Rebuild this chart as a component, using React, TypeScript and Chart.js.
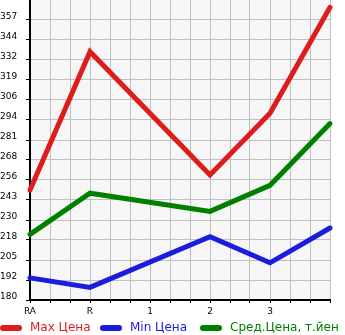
import React, { useEffect, useRef } from 'react';
import { Chart, registerables } from 'chart.js';

Chart.register(...registerables);

const categories = ['RA', 'R', '1', '2', '3', ''];
const maxPrices: (number | null)[] = [249.5, 337, null, 259, 298, 365];
const minPrices: (number | null)[] = [194, 188, null, 220, 203.5, 225.5];
const avgPrices: (number | null)[] = [221.5, 247.5, null, 236, 252.5, 291.5];
const yTickLabels = ['180', '192', '205', '218', '230', '243', '256', '268', '281', '294', '306', '319', '332', '344', '357'];
const seriesNames = ['Max Цена', 'Min Цена', 'Сред.Цена, т.йен'];
const seriesColors = ['#dd1c1c', '#1c1cdd', '#008000'];

const Y_MIN = 180;
const Y_STEP = (357 - 180) / 14;
const Y_MAX = Y_MIN + 15 * Y_STEP;
const SUB = 3; // minor grid subdivisions per category

const toPoints = (arr: (number | null)[]) => categories.map((_, i) => ({ x: i * SUB, y: arr[i] }));

const bgPlugin = {
  id: 'plotBg',
  beforeDraw(chart: any) {
    const { ctx, chartArea } = chart;
    ctx.save();
    ctx.fillStyle = '#f6f6f6';
    ctx.fillRect(chartArea.left, chartArea.top, chartArea.right - chartArea.left, chartArea.bottom - chartArea.top);
    ctx.restore();
  },
};

const legendPlugin = {
  id: 'customLegend',
  afterDraw(chart: any) {
    const ctx = chart.ctx;
    ctx.save();
    ctx.font = '12px "DejaVu Sans"';
    ctx.textBaseline = 'middle';
    const y = 328;
    seriesNames.forEach((name, i) => {
      const x = i * 100;
      ctx.strokeStyle = seriesColors[i];
      ctx.lineWidth = 6;
      ctx.lineCap = 'round';
      ctx.beginPath();
      ctx.moveTo(x + 3, y);
      ctx.lineTo(x + 19, y);
      ctx.stroke();
      ctx.fillStyle = seriesColors[i];
      ctx.fillText(name, x + 30, y);
    });
    ctx.restore();
  },
};

export default function App() {
  const ref = useRef<HTMLCanvasElement | null>(null);
  useEffect(() => {
    if (!ref.current) return;
    Chart.defaults.font.family = '"DejaVu Sans"';
    const mk = (i: number, arr: (number | null)[]) => ({
      label: seriesNames[i],
      data: toPoints(arr),
      borderColor: seriesColors[i],
      backgroundColor: seriesColors[i],
      borderWidth: 5,
      pointRadius: 0,
      spanGaps: true,
      tension: 0,
      clip: false as any,
      borderCapStyle: 'round' as const,
      borderJoinStyle: 'miter' as const,
    });
    const chart = new Chart(ref.current, {
      type: 'line',
      data: {
        datasets: [mk(0, maxPrices), mk(1, minPrices), mk(2, avgPrices)],
      },
      options: {
        animation: false,
        responsive: false,
        devicePixelRatio: 1,
        layout: { padding: { left: 0, right: 15, top: 0, bottom: 0 } },
        plugins: { legend: { display: false }, tooltip: { enabled: false } },
        scales: {
          x: {
            type: 'linear',
            min: 0,
            max: (categories.length - 1) * SUB,
            afterFit: (s: any) => {
              s.height = 35;
              s.paddingLeft = 0;
              s.paddingRight = 0;
            },
            grid: { color: '#c0c0c0', lineWidth: 1, tickLength: 3, tickColor: '#000' },
            border: { display: true, color: '#000', width: 2 },
            ticks: {
              stepSize: 1,
              autoSkip: false,
              maxRotation: 0,
              padding: 3,
              color: '#000',
              font: { size: 9 },
              callback: (v: any) => (Number(v) % SUB === 0 ? categories[Number(v) / SUB] : ''),
            },
          },
          y: {
            type: 'linear',
            min: Y_MIN,
            max: Y_MAX,
            afterFit: (s: any) => {
              s.width = 30;
              s.paddingTop = 0;
              s.paddingBottom = 0;
            },
            afterBuildTicks: (s: any) => {
              s.ticks = Array.from({ length: 16 }, (_, i) => ({ value: Y_MIN + i * Y_STEP }));
            },
            grid: {
              color: (c: any) => (c.index === 15 ? 'rgba(0,0,0,0)' : '#c0c0c0'),
              lineWidth: 1,
              tickLength: 4,
              tickColor: (c: any) => (c.index === 15 ? 'rgba(0,0,0,0)' : '#000'),
            },
            border: { display: true, color: '#000', width: 2 },
            ticks: {
              crossAlign: 'far',
              labelOffset: -3,
              color: '#000',
              font: { size: 9 },
              callback: (_v: any, idx: number) => yTickLabels[idx] ?? '',
            },
          },
        },
      },
      plugins: [bgPlugin, legendPlugin],
    });
    return () => chart.destroy();
  }, []);
  return (
    <div style={{ position: 'absolute', left: 0, top: 0, width: 345, height: 335 }}>
      <canvas ref={ref} width={345} height={335} />
    </div>
  );
}
